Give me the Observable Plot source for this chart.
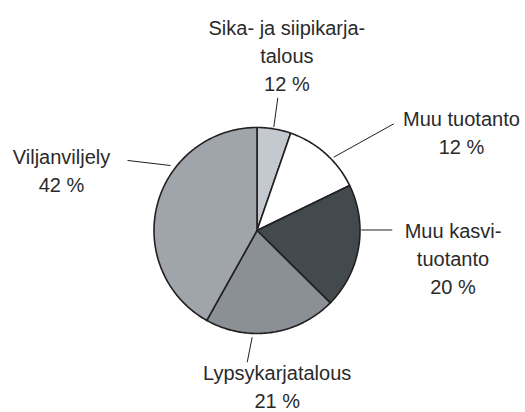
<!DOCTYPE html>
<html>
<head>
<meta charset="utf-8">
<script src="https://cdn.jsdelivr.net/npm/d3@7"></script>
<script src="https://cdn.jsdelivr.net/npm/@observablehq/plot@0.6"></script>
<style>
  html, body { margin: 0; padding: 0; background: #fff; }
  #chart { width: 525px; height: 412px; }
</style>
</head>
<body>
<div id="chart"></div>
<script>
// Data (clockwise from 12 o'clock)
const categories = ["Sika- ja siipikarja-\ntalous", "Muu tuotanto", "Muu kasvi-\ntuotanto", "Lypsykarjatalous", "Viljanviljely"];
const shares = [5.3, 12.5, 19.6, 20.7, 41.9];           // slice sizes as drawn
const shareLabels = ["12 %", "12 %", "20 %", "21 %", "42 %"]; // printed labels
const sliceColors = ["#c4c9cf", "#ffffff", "#434a4d", "#8a9096", "#a0a5ab"];

// Layout (unit-circle coordinates: pie centre = 0,0, radius = 1)
const labelPos = [
  {x: 0.29, y: 1.359},
  {x: 1.985, y: 0.745},
  {x: 1.903, y: -0.615},
  {x: 0.196, y: -1.72},
  {x: -1.898, y: 0.372}
];
const leaderPos = [
  {x1: 0.163, y1: 1.003, x2: 0.202, y2: 1.288},
  {x1: 0.746, y1: 0.712, x2: 1.328, y2: 1.036},
  {x1: 1.012, y1: 0.005, x2: 1.313, y2: 0.005},
  {x1: -0.047, y1: -1.036, x2: -0.095, y2: -1.279},
  {x1: -0.840, y1: 0.631, x2: -1.257, y2: 0.680}
];

// Build slice polygons from the shares
const total = d3.sum(shares);
const slicePts = [];
let acc = 0;
shares.forEach((v, i) => {
  const a0 = acc / total * 2 * Math.PI;
  acc += v;
  const a1 = acc / total * 2 * Math.PI;
  slicePts.push({k: i, x: 0, y: 0, c: sliceColors[i]});
  const n = Math.max(2, Math.ceil((a1 - a0) / (Math.PI / 180)));
  for (let j = 0; j <= n; j++) {
    const a = a0 + (a1 - a0) * j / n;
    slicePts.push({k: i, x: Math.sin(a), y: Math.cos(a), c: sliceColors[i]});
  }
  slicePts.push({k: i, x: 0, y: 0, c: sliceColors[i]});
});

const labels = categories.map((c, i) => ({
  text: c + "\n" + shareLabels[i],
  x: labelPos[i].x,
  y: labelPos[i].y
}));

const chart = Plot.plot({
  width: 525,
  height: 412,
  margin: 0,
  x: {domain: [-1, 1], range: [153.5, 359.5], axis: null},
  y: {domain: [-1, 1], range: [333, 127], axis: null},
  color: {type: "identity"},
  style: {background: "#fff", fontFamily: "'Liberation Sans', Arial, sans-serif"},
  marks: [
    Plot.line(slicePts, {x: "x", y: "y", z: "k", fill: "c", stroke: "#231f20", strokeWidth: 1.6, strokeLinejoin: "round", curve: "linear"}),
    Plot.link(leaderPos, {x1: "x1", y1: "y1", x2: "x2", y2: "y2", stroke: "#231f20", strokeWidth: 1}),
    Plot.text(labels, {x: "x", y: "y", text: "text", lineAnchor: "bottom", textAnchor: "middle", lineHeight: 1.4, fontSize: 20, fill: "#2a2a2a"})
  ]
});
document.getElementById("chart").appendChild(chart);
</script>
</body>
</html>
